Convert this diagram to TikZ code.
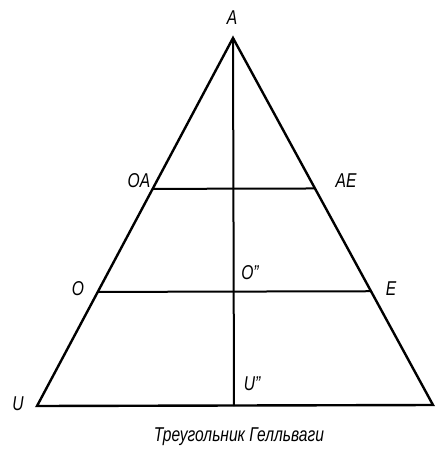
\documentclass[tikz,border=0pt]{standalone}
\usepackage{fontspec}
\setmainfont{Liberation Sans}[FakeStretch=0.78]
\usetikzlibrary{calc}
\begin{document}
\begin{tikzpicture}[x=1pt,y=-1pt,
  lbl/.style={font=\itshape\fontsize{20}{20}\selectfont, inner sep=0pt},
  side/.style={line width=2.4pt},
  ln/.style={line width=2pt}]
\useasboundingbox (0,0) rectangle (439,459);
\coordinate (A) at (233,38);
\coordinate (U) at (37,406);
\coordinate (I) at (433,405);
\coordinate (Ub) at (234,406);
\coordinate (OAp) at ($(A)!0.41!(U)$);
\coordinate (AEp) at ($(A)!0.41!(I)$);
\coordinate (Op) at ($(A)!0.69!(U)$);
\coordinate (Ep) at ($(A)!0.69!(I)$);
\draw[side, line join=miter] (U) -- (A) -- (I) -- cycle;
\draw[ln] (A) -- (Ub);
\draw[ln] (OAp) -- (AEp);
\draw[ln] (Op) -- (Ep);
\node[lbl] (lA) at (232,18) {A};
\node[lbl] (lOA) at (139,181) {OA};
\node[lbl] (lAE) at (346,181) {AE};
\node[lbl] (lO) at (78,289) {O};
\node[lbl] (lOpp) at (250,273) {O"};
\node[lbl] (lE) at (391,289) {E};
\node[lbl] (lU) at (18,404) {U};
\node[lbl] (lUpp) at (252,384) {U"};
\node[lbl] (cap) at (239,437) {Треугольник Гелльваги};
\end{tikzpicture}
\end{document}
